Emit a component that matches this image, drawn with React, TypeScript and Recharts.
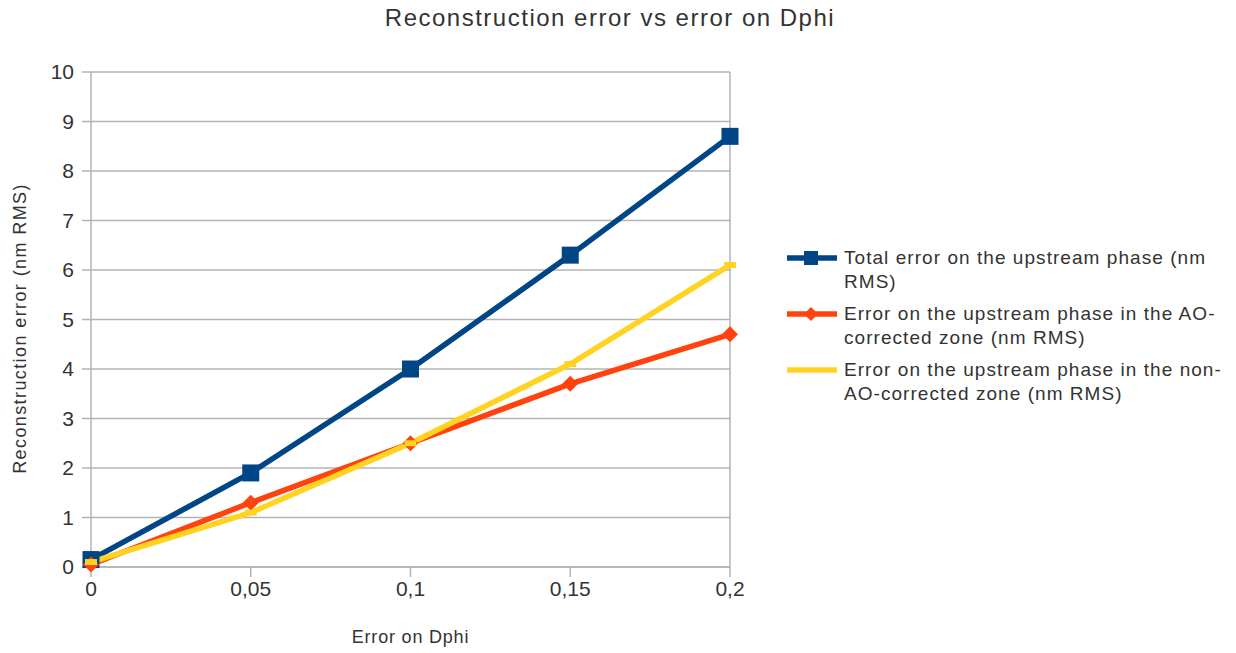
import React from 'react';
import { LineChart, Line, XAxis, YAxis, CartesianGrid, ReferenceLine } from 'recharts';

const xValues = [0, 0.05, 0.1, 0.15, 0.2];
const xTicks = [0, 0.05, 0.1, 0.15, 0.2];
const yTicks = [0, 1, 2, 3, 4, 5, 6, 7, 8, 9, 10];
const totalError = [0.15, 1.9, 4.0, 6.3, 8.7];
const aoCorrected = [0.05, 1.3, 2.5, 3.7, 4.7];
const nonAoCorrected = [0.1, 1.1, 2.5, 4.1, 6.1];

const seriesNames = [
  'Total error on the upstream phase (nm\nRMS)',
  'Error on the upstream phase in the AO-\ncorrected zone (nm RMS)',
  'Error on the upstream phase in the non-\nAO-corrected zone (nm RMS)',
];
const colors = ['#004586', '#ff420e', '#ffd320'];

const data = xValues.map((x, i) => ({
  x,
  total: totalError[i],
  ao: aoCorrected[i],
  nonAo: nonAoCorrected[i],
}));

const FONT = '"Liberation Sans", Arial, sans-serif';
const GRID = '#b3b3b3';
const TEXT = '#333333';

const SquareDot = (props: any) => {
  const { cx, cy, index } = props;
  if (cx == null || cy == null) return <g key={`s${index}`} />;
  return <rect key={`s${index}`} x={cx - 8.5} y={cy - 8.5} width={17} height={17} fill={colors[0]} />;
};
const DiamondDot = (props: any) => {
  const { cx, cy, index } = props;
  if (cx == null || cy == null) return <g key={`d${index}`} />;
  const r = 8;
  return (
    <polygon
      key={`d${index}`}
      points={`${cx},${cy - r} ${cx + r},${cy} ${cx},${cy + r} ${cx - r},${cy}`}
      fill={colors[1]}
    />
  );
};
const BarDot = (props: any) => {
  const { cx, cy, index } = props;
  if (cx == null || cy == null) return <g key={`b${index}`} />;
  return <rect key={`b${index}`} x={cx - 6} y={cy - 3} width={12} height={6} fill={colors[2]} />;
};

const LegendBox = () => (
  <div
    style={{
      position: 'absolute',
      left: 786,
      top: 246,
      fontFamily: FONT,
      fontSize: 19,
      color: TEXT,
      letterSpacing: 1.05,
    }}
  >
    {seriesNames.map((name, i) => (
      <div key={i} style={{ display: 'flex', alignItems: 'flex-start', marginBottom: 8 }}>
        <svg width={52} height={24} style={{ flex: 'none', marginRight: 6 }}>
          <line x1={1} y1={12} x2={51} y2={12} stroke={colors[i]} strokeWidth={5.5} />
          {i === 0 && <rect x={18} y={5} width={14} height={14} fill={colors[0]} />}
          {i === 1 && <polygon points="25,5 32,12 25,19 18,12" fill={colors[1]} />}
        </svg>
        <div style={{ whiteSpace: 'pre', lineHeight: '24px' }}>{name}</div>
      </div>
    ))}
  </div>
);

export default function App() {
  return (
    <div style={{ position: 'absolute', left: 0, top: 0, width: 1236, height: 653, background: '#fff' }}>
      <LineChart width={1236} height={653} data={data} margin={{ top: 72, right: 506, left: 0, bottom: 0 }}>
        <CartesianGrid vertical={false} stroke={GRID} strokeWidth={1.5} />
        <ReferenceLine x={0.2} stroke={GRID} strokeWidth={1.5} />
        <XAxis
          dataKey="x"
          type="number"
          domain={[0, 0.2]}
          ticks={xTicks}
          tickFormatter={(v: number) => String(v).replace('.', ',')}
          height={86}
          tickSize={10}
          tickMargin={4}
          stroke={GRID}
          strokeWidth={1.5}
          tick={{ fill: TEXT, fontSize: 21, fontFamily: FONT }}
          label={{ value: 'Error on Dphi', position: 'center', dy: 27, fill: TEXT, fontSize: 18, fontFamily: FONT, letterSpacing: 0.8 }}
        />
        <YAxis
          type="number"
          domain={[0, 10]}
          ticks={yTicks}
          width={91}
          tickSize={9}
          tickMargin={8}
          stroke={GRID}
          strokeWidth={1.5}
          tick={{ fill: TEXT, fontSize: 21, fontFamily: FONT }}
          label={{ value: 'Reconstruction error (nm RMS)', angle: -90, position: 'center', dx: -26, dy: 9, fill: TEXT, fontSize: 18, fontFamily: FONT, letterSpacing: 1.4 }}
        />
        <Line
          type="linear"
          dataKey="total"
          name={seriesNames[0]}
          stroke={colors[0]}
          strokeWidth={5.5}
          dot={SquareDot}
          activeDot={false}
          isAnimationActive={false}
        />
        <Line
          type="linear"
          dataKey="ao"
          name={seriesNames[1]}
          stroke={colors[1]}
          strokeWidth={5.5}
          dot={DiamondDot}
          activeDot={false}
          isAnimationActive={false}
        />
        <Line
          type="linear"
          dataKey="nonAo"
          name={seriesNames[2]}
          stroke={colors[2]}
          strokeWidth={5.5}
          dot={BarDot}
          activeDot={false}
          isAnimationActive={false}
        />
      </LineChart>
      <div
        style={{
          position: 'absolute',
          left: 0,
          top: 4,
          width: 1220,
          textAlign: 'center',
          fontFamily: FONT,
          fontSize: 24,
          letterSpacing: 1.5,
          color: TEXT,
        }}
      >
        Reconstruction error vs error on Dphi
      </div>
      <LegendBox />
    </div>
  );
}
